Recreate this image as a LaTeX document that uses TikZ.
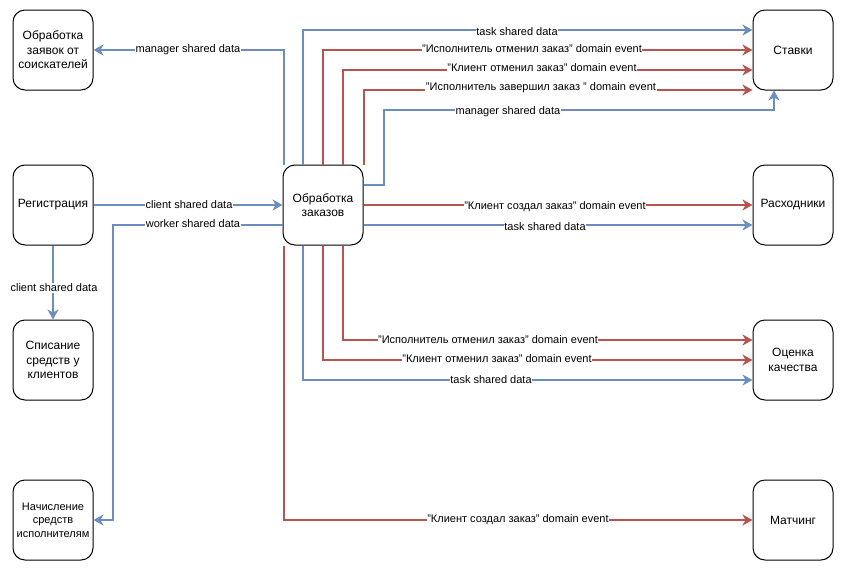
\documentclass[tikz,border=0pt]{standalone}
\usepackage{fontspec}
\setmainfont{Liberation Sans}
\usetikzlibrary{arrows.meta}
\definecolor{eblue}{HTML}{6C8EBF}
\definecolor{ered}{HTML}{B85450}
\tikzset{
  box/.style={draw=black, line width=1pt, rounded corners=12pt, minimum width=80pt, minimum height=80pt, inner sep=0pt, align=center, font=\fontsize{12}{14.5}\selectfont},
  smallbox/.style={box, font=\fontsize{11}{13.3}\selectfont},
  tip/.style={-{Stealth[length=10pt,width=11pt,inset=3pt]}},
  bl/.style={draw=eblue, line width=2pt, tip},
  rd/.style={draw=ered, line width=2pt, tip},
  blnotip/.style={draw=eblue, line width=2pt},
  lbl/.style={fill=white, inner sep=0.5pt, font=\fontsize{11}{13}\selectfont},
}
\begin{document}
\begin{tikzpicture}[x=1pt, y=-1pt]
\useasboundingbox (0,0) rectangle (844,571);
% nodes
\node[box] (zav) at (53,50) {Обработка\\заявок от\\соискателей};
\node[box] (reg) at (53,205) {Регистрация};
\node[box] (spis) at (53,360) {Списание\\средств у\\клиентов};
\node[smallbox] (nach) at (53,520) {Начисление\\средств\\исполнителям};
\node[box] (oz) at (323,205) {Обработка\\заказов};
\node[box] (stav) at (793,50) {Ставки};
\node[box] (rash) at (793,205) {Расходники};
\node[box] (ocen) at (793,360) {Оценка\\качества};
\node[box] (match) at (793,520) {Матчинг};

% edges left side
\draw[bl] ([xshift=1]oz.north west) |- (zav.east);
\node[lbl] at (188,50) {manager shared data};
\draw[bl] (reg.east) -- (oz.west);
\node[lbl] at (189,205) {client shared data};
\draw[bl] ([yshift=-20]oz.west) -- ++(-170,0) |- (nach.east);
\node[lbl] at (193,224) {worker shared data};
\draw[bl] (reg.south) -- (spis.north);
\node[lbl] at (54,288) {client shared data};

% edges to Ставки
\draw[bl] ([xshift=20]oz.north west) |- ([yshift=20]stav.west);
\node[lbl] at (517,32) {task shared data};
\draw[rd] (oz.north) |- (stav.west);
\node[lbl] at (532,49) {"Исполнитель отменил заказ" domain event};
\draw[rd] ([xshift=60]oz.north west) |- ([yshift=-20]stav.west);
\node[lbl] at (542,68) {"Клиент отменил заказ" domain event};
\draw[rd] (oz.north east) |- ([yshift=-40]stav.west);
\node[lbl] at (541,88) {"Исполнитель завершил заказ " domain event};
\draw[bl] ([yshift=20]oz.east) -- ++(20,0) -- ++(0,-75) -| ([xshift=-19]stav.south);
\node[lbl] at (508,112) {manager shared data};

% edges to Расходники
\draw[rd] (oz.east) -- (rash.west);
\node[lbl] at (555,207) {"Клиент создал заказ" domain event};
\draw[bl] ([yshift=-20]oz.east) -- ([yshift=-20]rash.west);
\node[lbl] at (545,227) {task shared data};

% edges to Оценка качества
\draw[rd] ([xshift=60]oz.south west) |- ([yshift=20]ocen.west);
\node[lbl] at (488,340) {"Исполнитель отменил заказ" domain event};
\draw[rd] (oz.south) |- (ocen.west);
\node[lbl] at (497,359) {"Клиент отменил заказ" domain event};
\draw[bl] ([xshift=20]oz.south west) |- ([yshift=-20]ocen.west);
\node[lbl] at (491,380) {task shared data};

% edge to Матчинг
\draw[rd] ([xshift=1]oz.south west) |- (match.west);
\node[lbl] at (518,520) {"Клиент создал заказ" domain event};
\end{tikzpicture}
\end{document}
